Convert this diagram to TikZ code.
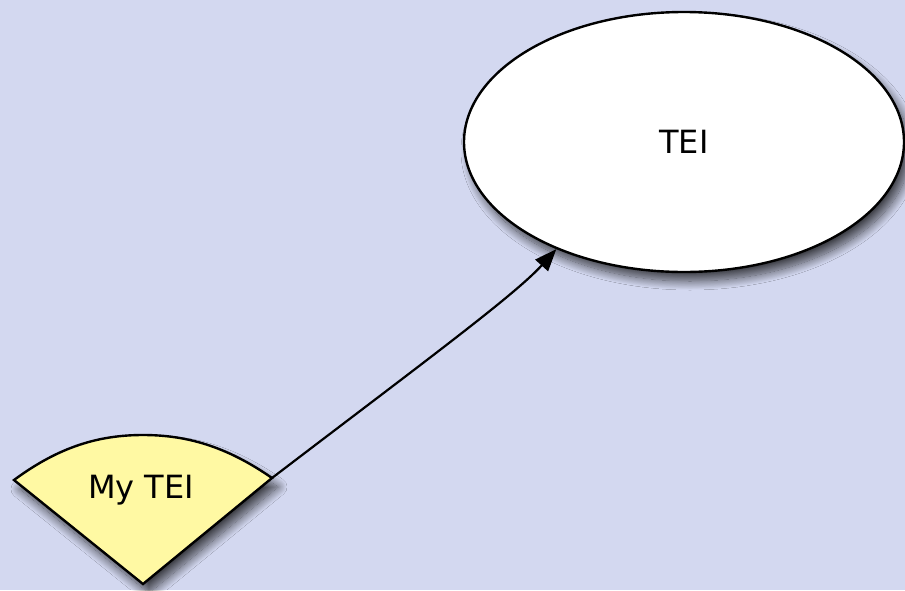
\documentclass[tikz,border=0pt]{standalone}
\usepackage{fontspec}
\setmainfont{DejaVu Sans}
\usetikzlibrary{shapes.geometric,arrows.meta,shadows.blur}
\definecolor{bgc}{RGB}{211,216,240}
\definecolor{yel}{RGB}{255,249,163}
\tikzset{
  lbl/.style={font=\fontsize{32}{36}\selectfont, text=black},
  conn/.style={draw=black, line width=2.2pt, -{Triangle[length=22pt,width=17pt]}},
  shad/.style={blur shadow={shadow xshift=6pt, shadow yshift=-9pt, shadow blur steps=16, shadow blur radius=9pt, shadow opacity=70}}
}
\begin{document}
\begin{tikzpicture}[x=1pt,y=-1pt]
\fill[bgc] (0,0) rectangle (905,590);
\useasboundingbox (0,0) rectangle (905,590);
% ellipse
\node[ellipse, draw=black, line width=2.4pt, fill=white, minimum width=440pt, minimum height=260pt, inner sep=0pt, shad] (tei) at (684,142) {};
\node[lbl] (teitext) at (684,142) {TEI};
% sector
\coordinate (sl) at (14,480);
\coordinate (sr) at (272,478);
\coordinate (sa) at (143,584);
\path[fill=yel, draw=black, line width=2.4pt, line join=miter, shad]
  (sa) -- (sl) .. controls (60,446) and (100,435) .. (143,435) .. controls (186,435) and (226,446) .. (sr) -- cycle;
\node[lbl] (mytei) at (141,490) {My TEI};
% connector
\draw[conn] (sr) .. controls (420,365) and (515,295) .. (tei.220);
\end{tikzpicture}
\end{document}
